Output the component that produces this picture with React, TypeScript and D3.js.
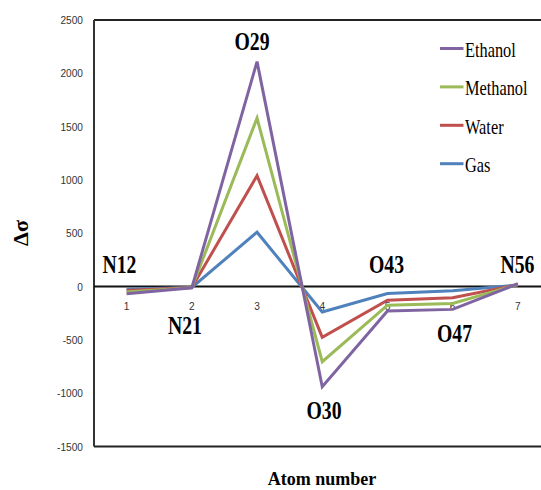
import React from "react";
import * as d3 from "d3";

const categories = ["1", "2", "3", "4", "5", "6", "7"];
const seriesNames = ["Gas", "Water", "Methanol", "Ethanol"];
const gas = [-25, -8, 510, -238, -65, -40, 15];
const water = [-38, -9, 1040, -477, -128, -105, 18];
const methanol = [-52, -10, 1580, -705, -175, -158, 20];
const ethanol = [-68, -12, 2110, -940, -230, -214, 27];
const yTicks = [-1500, -1000, -500, 0, 500, 1000, 1500, 2000, 2500];
const atomLabels = ["N12", "N21", "O29", "O30", "O43", "O47", "N56"];
const legendOrder = ["Ethanol", "Methanol", "Water", "Gas"];

const colors: Record<string, string> = {
  Gas: "#4F81BD",
  Water: "#C0504D",
  Methanol: "#9BBB59",
  Ethanol: "#8064A2",
};
const values: Record<string, number[]> = {
  Gas: gas,
  Water: water,
  Methanol: methanol,
  Ethanol: ethanol,
};

// label layout: [x center, baseline y] in pixels (layout only)
const labelPos: Record<string, [number, number]> = {
  N12: [119.5, 272.5],
  N21: [185, 333.5],
  O29: [252, 50],
  O30: [324, 419],
  O43: [386.5, 272.5],
  O47: [454.5, 341.5],
  N56: [517.5, 272.5],
};

export default function App() {
  const W = 541;
  const H = 490;
  const left = 94;
  const top = 20;
  const bottom = 446.5;
  const x = d3.scaleBand<string>().domain(categories).range([left, 550.5]).padding(0);
  const cx = (c: string) => (x(c) as number) + x.bandwidth() / 2;
  const y = d3.scaleLinear().domain([-1500, 2500]).range([bottom, top]);
  const line = d3
    .line<number>()
    .x((_, i) => cx(categories[i]))
    .y((d) => y(d));

  const serif = "'Liberation Serif', 'Times New Roman', serif";
  const sans = "'Liberation Sans', Arial, sans-serif";

  return (
    <svg
      width={W}
      height={H}
      style={{ position: "absolute", left: 0, top: 0, background: "#fff" }}
    >
      <rect x={0} y={0} width={W} height={H} fill="#fff" />
      {/* frame */}
      <line x1={left} x2={W} y1={top} y2={top} stroke="#222" strokeWidth={2} />
      <line x1={left} x2={W} y1={bottom} y2={bottom} stroke="#222" strokeWidth={2} />
      <line x1={left} x2={left} y1={top} y2={bottom} stroke="#333" strokeWidth={2} />
      {/* zero line */}
      <line x1={left} x2={W} y1={y(0)} y2={y(0)} stroke="#111" strokeWidth={2} />

      {/* y tick labels */}
      {yTicks.map((t) => (
        <text
          key={t}
          transform={`translate(83,${y(t) + 4}) scale(0.88,1)`}
          textAnchor="end"
          fontFamily={sans}
          fontSize={11.5}
          fill="#333"
        >
          {t}
        </text>
      ))}

      {/* x tick labels */}
      {categories.map((c) => (
        <text
          key={c}
          transform={`translate(${cx(c)},${310}) scale(0.88,1)`}
          textAnchor="middle"
          fontFamily={sans}
          fontSize={11.5}
          fill="#333"
        >
          {c}
        </text>
      ))}

      {/* series */}
      {seriesNames.map((s) => (
        <path
          key={s}
          d={line(values[s]) as string}
          fill="none"
          stroke={colors[s]}
          strokeWidth={3}
          strokeLinejoin="miter"
        />
      ))}

      {/* atom labels */}
      {atomLabels.map((l) => (
        <text
          key={l}
          transform={`translate(${labelPos[l][0]},${labelPos[l][1]}) scale(0.79,1)`}
          textAnchor="middle"
          fontFamily={serif}
          fontWeight="bold"
          fontSize={25}
          fill="#000"
        >
          {l}
        </text>
      ))}

      {/* legend */}
      {legendOrder.map((s, i) => {
        const ly = 48.5 + i * 38.4;
        return (
          <g key={s}>
            <line x1={440} x2={463.5} y1={ly} y2={ly} stroke={colors[s]} strokeWidth={3} />
            <text
              transform={`translate(465,${ly + 8.3}) scale(0.76,1)`}
              fontFamily={serif}
              fontSize={21.5}
              fill="#000"
            >
              {s}
            </text>
          </g>
        );
      })}

      {/* axis titles */}
      <text
        x={322}
        y={485}
        textAnchor="middle"
        fontFamily={serif}
        fontWeight="bold"
        fontSize={18}
        fill="#000"
      >
        Atom number
      </text>
      <text
        transform={`translate(28,233) rotate(-90)`}
        textAnchor="middle"
        fontFamily={serif}
        fontWeight="bold"
        fontSize={22}
        fill="#000"
      >
        Δσ
      </text>
    </svg>
  );
}
